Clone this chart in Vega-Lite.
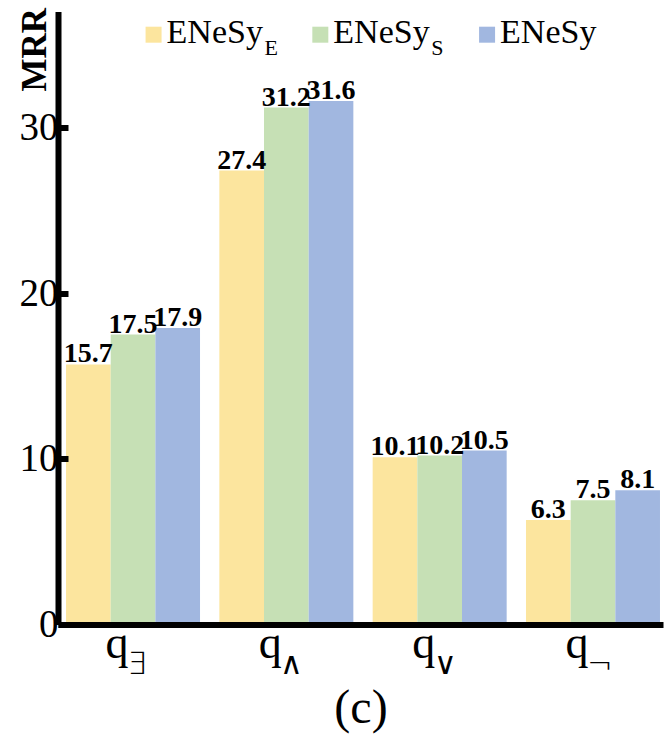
{
  "$schema": "https://vega.github.io/schema/vega-lite/v6.json",
  "autosize": {"type": "none"},
  "width": 605,
  "height": 613,
  "padding": {"left": 58, "top": 11.5, "right": 1, "bottom": 109.5},
  "background": "white",
  "config": {
    "view": {"stroke": null},
    "font": "'Liberation Serif', 'Times New Roman', Times, serif",
    "text": {"font": "'Liberation Serif', 'Times New Roman', Times, serif", "color": "black"}
  },
  "datasets": {
    "scores": [
      {"query": "∃", "model": "ENeSy_E", "mrr": 15.7},
      {"query": "∃", "model": "ENeSy_S", "mrr": 17.5},
      {"query": "∃", "model": "ENeSy", "mrr": 17.9},
      {"query": "∧", "model": "ENeSy_E", "mrr": 27.4},
      {"query": "∧", "model": "ENeSy_S", "mrr": 31.2},
      {"query": "∧", "model": "ENeSy", "mrr": 31.6},
      {"query": "∨", "model": "ENeSy_E", "mrr": 10.1},
      {"query": "∨", "model": "ENeSy_S", "mrr": 10.2},
      {"query": "∨", "model": "ENeSy", "mrr": 10.5},
      {"query": "¬", "model": "ENeSy_E", "mrr": 6.3},
      {"query": "¬", "model": "ENeSy_S", "mrr": 7.5},
      {"query": "¬", "model": "ENeSy", "mrr": 8.1}
    ],
    "queries": [
      {"query": "∃"}, {"query": "∧"}, {"query": "∨"}, {"query": "¬"}
    ],
    "models": [
      {"model": "ENeSy_E", "name": "ENeSy", "sub": "E"},
      {"model": "ENeSy_S", "name": "ENeSy", "sub": "S"},
      {"model": "ENeSy", "name": "ENeSy", "sub": ""}
    ]
  },
  "resolve": {"scale": {"x": "independent"}, "axis": {"x": "independent"}},
  "layer": [
    {
      "layer": [
        {
          "data": {"name": "scores"},
          "mark": {"type": "bar"},
          "encoding": {
            "x": {
              "field": "query", "type": "nominal",
              "scale": {"domain": ["∃", "∧", "∨", "¬"], "paddingInner": 0.126, "paddingOuter": 0.036, "align": 0.727},
              "axis": {
                "orient": "bottom",
                "labelExpr": "'q'",
                "labelFont": "'Liberation Serif', 'Times New Roman', Times, serif",
                "labelFontSize": 46,
                "labelColor": "black",
                "labelAngle": 0,
                "labelOffset": -16,
                "labelPadding": -3,
                "labelBaseline": "top",
                "ticks": false,
                "domainColor": "black",
                "domainWidth": 6,
                "grid": false,
                "zindex": 1,
                "title": "(c)",
                "titleFont": "'Liberation Serif', 'Times New Roman', Times, serif",
                "titleFontSize": 48,
                "titleFontWeight": "normal",
                "titleColor": "black",
                "titleBaseline": "alphabetic",
                "titleY": 98
              }
            },
            "xOffset": {
              "field": "model", "type": "nominal",
              "scale": {"domain": ["ENeSy_E", "ENeSy_S", "ENeSy"], "paddingInner": 0, "paddingOuter": 0}
            },
            "y": {
              "field": "mrr", "type": "quantitative",
              "scale": {"domain": [0, 37], "nice": false, "zero": true},
              "axis": {
                "values": [0, 10, 20, 30],
                "labelFont": "'Liberation Serif', 'Times New Roman', Times, serif",
                "labelFontSize": 39,
                "labelColor": "black",
                "labelPadding": 10,
                "domainColor": "black",
                "domainWidth": 6,
                "tickColor": "black",
                "tickWidth": 6,
                "tickSize": -10,
                "grid": false,
                "zindex": 1,
                "title": "MRR",
                "titleFont": "'Liberation Serif', 'Times New Roman', Times, serif",
                "titleFontSize": 35,
                "titleFontWeight": "bold",
                "titleColor": "black",
                "titleAngle": 270,
                "titleAlign": "right",
                "titleBaseline": "alphabetic",
                "titleX": -13,
                "titleY": -4
              }
            },
            "color": {
              "field": "model", "type": "nominal",
              "scale": {"domain": ["ENeSy_E", "ENeSy_S", "ENeSy"], "range": ["#FCE59E", "#C6E0B5", "#A1B7E0"]},
              "legend": null
            }
          }
        },
        {
          "data": {"name": "scores"},
          "mark": {"type": "text", "font": "'Liberation Serif', 'Times New Roman', Times, serif", "fontWeight": "bold", "fontSize": 28, "color": "black", "baseline": "alphabetic", "dy": -2},
          "encoding": {
            "x": {"field": "query", "type": "nominal"},
            "xOffset": {"field": "model", "type": "nominal"},
            "y": {"field": "mrr", "type": "quantitative"},
            "text": {"field": "mrr", "type": "quantitative", "format": ".1f"}
          }
        },
        {
          "data": {"name": "queries"},
          "mark": {"type": "text", "font": "'DejaVu Sans', sans-serif", "fontWeight": 200, "fontSize": 31, "color": "black", "align": "left", "baseline": "alphabetic", "dx": -6, "dy": 49},
          "encoding": {
            "x": {"field": "query", "type": "nominal"},
            "y": {"datum": 0},
            "text": {"field": "query"}
          }
        },
        {
          "mark": {"type": "rule", "color": "black", "strokeWidth": 6, "strokeCap": "square"},
          "encoding": {"y": {"datum": 37}}
        }
      ]
    },
    {
      "data": {"name": "models"},
      "encoding": {
        "x": {
          "field": "model", "type": "nominal",
          "scale": {"type": "point", "domain": ["ENeSy_E", "ENeSy_S", "ENeSy"], "padding": 0.814, "align": 0.352},
          "axis": null
        }
      },
      "layer": [
        {
          "mark": {"type": "point", "shape": "square", "filled": true, "size": 256, "opacity": 1},
          "encoding": {
            "y": {"datum": 35.6},
            "color": {"field": "model", "type": "nominal", "legend": null}
          }
        },
        {
          "mark": {"type": "text", "font": "'Liberation Serif', 'Times New Roman', Times, serif", "fontSize": 34, "color": "black", "align": "left", "baseline": "alphabetic", "dx": 13},
          "encoding": {
            "y": {"datum": 35.1},
            "text": {"field": "name"}
          }
        },
        {
          "mark": {"type": "text", "font": "'Liberation Serif', 'Times New Roman', Times, serif", "fontSize": 22, "color": "black", "align": "left", "baseline": "alphabetic", "dx": 111, "dy": 12},
          "encoding": {
            "y": {"datum": 35.1},
            "text": {"field": "sub"}
          }
        }
      ]
    }
  ]
}
